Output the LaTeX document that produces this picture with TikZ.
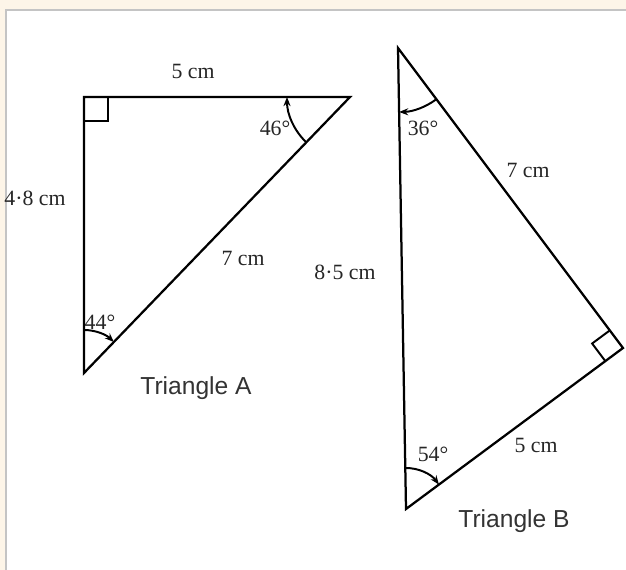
\documentclass[tikz,border=0pt]{standalone}
\usepackage{fontspec}
\setmainfont{Liberation Serif}
\setsansfont{Liberation Sans}
\usetikzlibrary{arrows.meta,calc}
\definecolor{cream}{HTML}{FDF5E8}
\definecolor{framegray}{HTML}{C4C4C4}
\definecolor{inkgray}{HTML}{333333}

\begin{document}
\begin{tikzpicture}[line width=3.2pt,
    every node/.style={font=\fontsize{31}{37}\selectfont, text=black!85},
    tname/.style={font=\sffamily\fontsize{35}{42}\selectfont, text=inkgray},
    rmark/.style={line width=2.8pt, line join=miter},
    arcmark/.style={line width=2.8pt, arrows={Stealth[length=13pt,width=10pt]-}}]
            \useasboundingbox (0,0) rectangle (31.3,28.5);
            \fill[cream] (0,0) rectangle (31.3,28.5);
            \filldraw[fill=white, draw=framegray, line width=2pt] (0.3,-1) rectangle (33,28.0);
            % Triangle A
            \coordinate (A) at (4.2,23.65);
            \coordinate (B) at (17.5,23.65);
            \coordinate (C) at (4.2,9.85);
            \coordinate (ab) at ($(A)!1.2cm!(B)$);
            \coordinate (ac) at ($(A)!1.2cm!(C)$);
            \draw[rmark] (ab)--($(ab)+(ac)-(A)$)--(ac);
            \draw[arcmark] (B) ++(180:3.15) arc[start angle=180, end angle=226.06, radius=3.15];
            \draw[arcmark] (C) ++(46.06:2.15) arc[start angle=46.06, end angle=90, radius=2.15];
            \draw[line join=miter] (A)--(B)--(C)--cycle;
            \node (sAB) at (9.65,24.95) {5 cm};
            \node (sAC) at (1.75,18.6) {4·8 cm};
            \node (sBC) at (12.15,15.6) {7 cm};
            \node (aB) at (13.75,22.1) {46°};
            \node (aC) at (5.0,12.4) {44°};
            \node[tname] (tA) at (9.8,9.1) {Triangle A};
            % Triangle B
            \coordinate (D) at (19.9,26.1);
            \coordinate (E) at (20.3,3.05);
            \coordinate (F) at (31.15,11.1);
            \coordinate (fd) at ($(F)!1.1cm!(D)$);
            \coordinate (fe) at ($(F)!1.1cm!(E)$);
            \draw[rmark] (fd)--($(fd)+(fe)-(F)$)--(fe);
            \draw[arcmark] (D) ++(270.99:3.2) arc[start angle=270.99, end angle=306.87, radius=3.2];
            \draw[arcmark] (E) ++(36.57:2.05) arc[start angle=36.57, end angle=90.99, radius=2.05];
            \draw[line join=miter] (D)--(E)--(F)--cycle;
            \node (sDF) at (26.4,20.0) {7 cm};
            \node (sDE) at (17.25,14.9) {8·5 cm};
            \node (sEF) at (26.8,6.25) {5 cm};
            \node (aD) at (21.15,22.1) {36°};
            \node (aE) at (21.65,5.8) {54°};
            \node[tname] (tB) at (25.7,2.45) {Triangle B};
        \end{tikzpicture}
\end{document}
